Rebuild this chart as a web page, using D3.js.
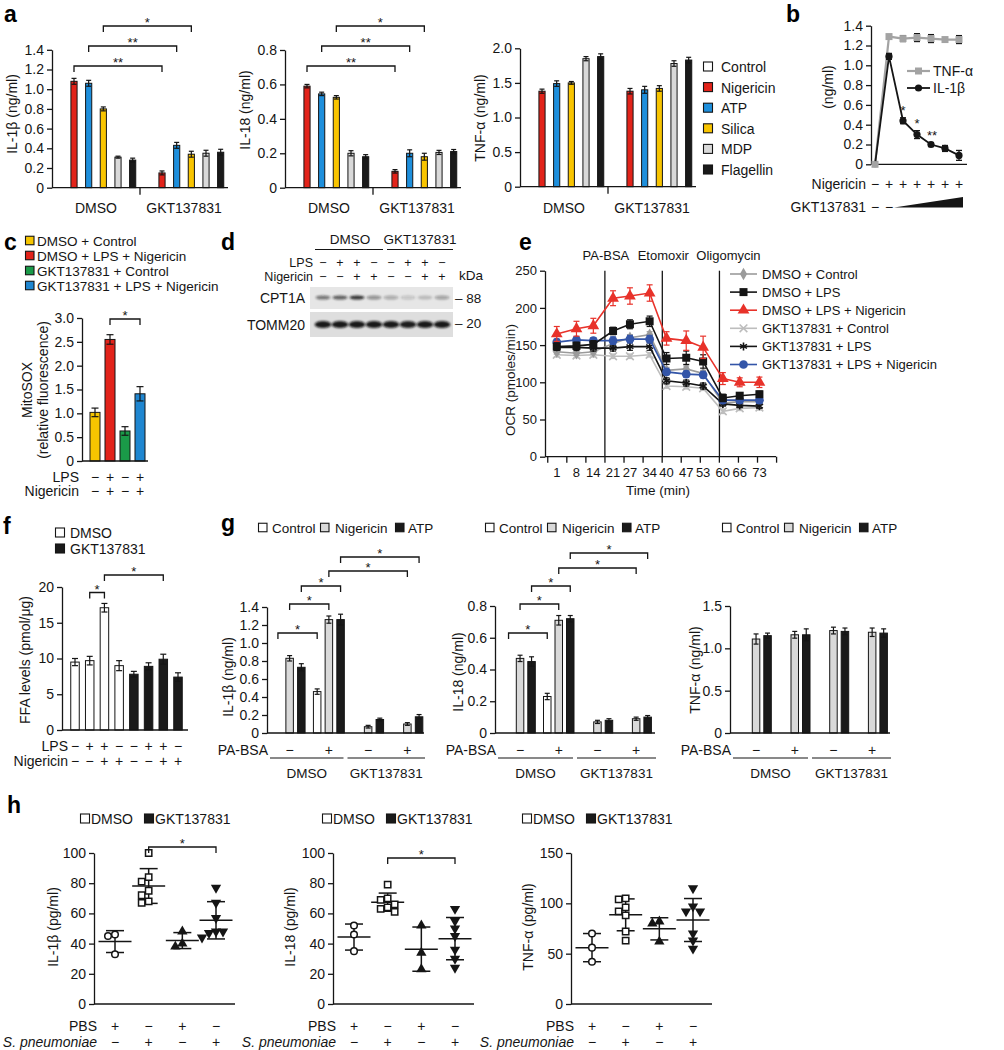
<!DOCTYPE html>
<html><head><meta charset="utf-8">
<script src="https://cdn.jsdelivr.net/npm/d3@7"></script>
<style>body{margin:0;background:#fff}svg{display:block}</style>
</head><body>
<script>
// ================= DATA =================
// Panel a
const aTreatments = ["Control","Nigericin","ATP","Silica","MDP","Flagellin"];
const aGroups = ["DMSO","GKT137831"];
const aIL1b    = [0,1.08,1.06,0.80,0.31,0.28, 0,0.15,0.43,0.34,0.35,0.36];
const aIL1bErr = [0,0.03,0.03,0.02,0.01,0.02, 0,0.02,0.03,0.03,0.03,0.03];
const aIL18    = [0,0.59,0.545,0.525,0.20,0.18, 0,0.095,0.20,0.18,0.205,0.21];
const aIL18Err = [0,0.01,0.01,0.01,0.015,0.012, 0,0.01,0.02,0.02,0.012,0.012];
const aTNF     = [0,1.38,1.49,1.50,1.85,1.88, 0,1.38,1.40,1.42,1.78,1.83];
const aTNFErr  = [0,0.03,0.04,0.02,0.03,0.04, 0,0.04,0.05,0.04,0.04,0.04];
const aIL1bTicks = [0,0.2,0.4,0.6,0.8,1.0,1.2,1.4];
const aIL18Ticks = [0,0.2,0.4,0.6,0.8];
const aTNFTicks  = [0,0.5,1.0,1.5,2.0];

// Panel b
const bNigericin = ["−","+","+","+","+","+","+"];
const bTNF     = [0,1.29,1.27,1.28,1.27,1.26,1.26];
const bTNFErr  = [0,0.02,0.03,0.04,0.04,0.02,0.04];
const bIL1b    = [0,1.09,0.44,0.30,0.20,0.16,0.09];
const bIL1bErr = [0,0.03,0.03,0.04,0.02,0.03,0.05];
const bStars   = ["","","*","*","**","",""];
const bTicks   = [0,0.2,0.4,0.6,0.8,1.0,1.2,1.4];

// Panel c
const cGroups = ["DMSO + Control","DMSO + LPS + Nigericin","GKT137831 + Control","GKT137831 + LPS + Nigericin"];
const cValues = [1.02,2.55,0.63,1.41];
const cErr    = [0.09,0.10,0.09,0.15];
const cLPS    = ["−","+","−","+"];
const cNig    = ["−","+","−","+"];
const cTicks  = [0,0.5,1.0,1.5,2.0,2.5,3.0];

// Panel d (western blot band intensities)
const dLPS    = ["−","+","+","−","−","+","+","−"];
const dNig    = ["−","−","+","+","−","−","+","+"];
const dCPT1A  = [0.55,0.68,0.88,0.42,0.30,0.18,0.20,0.34];
const dTOMM20 = [0.95,0.95,0.95,0.95,0.95,0.93,0.95,0.95];

// Panel e
const eTimes = [1,8,14,21,27,34,40,47,53,60,66,73];
const eSeriesNames = ["DMSO + Control","DMSO + LPS","DMSO + LPS + Nigericin","GKT137831 + Control","GKT137831 + LPS","GKT137831 + LPS + Nigericin"];
const eDMSOCtrl    = [141,139,141,152,160,164,116,118,112,72,74,74];
const eDMSOLPS     = [148,149,151,169,178,182,132,133,128,79,82,84];
const eDMSOLPSNig  = [165,172,176,213,216,220,159,156,147,105,100,100];
const eGKTCtrl     = [137,136,137,135,135,137,95,94,92,61,65,66];
const eGKTLPS      = [147,147,146,146,148,148,102,99,95,71,69,68];
const eGKTLPSNig   = [154,157,156,156,158,158,114,111,110,76,76,76];
const eErrDMSOCtrl   = [3,3,3,4,4,4,4,4,4,3,3,3];
const eErrDMSOLPS    = [5,5,5,5,6,7,8,9,9,5,4,4];
const eErrDMSOLPSNig = [10,10,10,10,11,11,9,13,15,8,6,7];
const eErrGKTCtrl    = [3,3,3,3,3,3,3,3,3,3,3,3];
const eErrGKTLPS     = [4,4,4,4,5,5,4,4,4,3,3,3];
const eErrGKTLPSNig  = [4,4,4,5,5,5,4,4,4,4,4,4];
const eYTicks = [0,50,100,150,200,250];
const eInjections = ["PA-BSA","Etomoxir","Oligomycin"];
const eInjectionTimes = [18.1,38.5,58.8];

// Panel f
const fTreatment = ["DMSO","DMSO","DMSO","DMSO","GKT137831","GKT137831","GKT137831","GKT137831"];
const fValues = [9.5,9.7,17.1,9.0,7.8,8.9,9.9,7.4];
const fErr    = [0.5,0.6,0.6,0.7,0.4,0.5,0.7,0.6];
const fLPS    = ["−","+","+","−","−","+","+","−"];
const fNig    = ["−","−","+","+","−","−","+","+"];
const fTicks  = [0,5,10,15,20];

// Panel g  (groups: DMSO/PA-BSA−, DMSO/PA-BSA+, GKT/PA-BSA−, GKT/PA-BSA+ ; slots: Control, Nigericin, ATP)
const gStimuli = ["Control","Nigericin","ATP"];
const gPABSA = ["−","+","−","+"];
const gIL1b    = [[0,0.83,0.73],[0.46,1.26,1.26],[0,0.07,0.15],[0,0.10,0.18]];
const gIL1bErr = [[0,0.03,0.04],[0.03,0.04,0.06],[0,0.015,0.015],[0,0.015,0.025]];
const gIL18    = [[0,0.47,0.45],[0.23,0.71,0.72],[0,0.07,0.08],[0,0.09,0.10]];
const gIL18Err = [[0,0.02,0.03],[0.02,0.03,0.02],[0,0.01,0.01],[0,0.01,0.01]];
const gTNF     = [[0,1.11,1.15],[0,1.16,1.16],[0,1.21,1.20],[0,1.19,1.18]];
const gTNFErr  = [[0,0.06,0.03],[0,0.04,0.07],[0,0.04,0.04],[0,0.05,0.05]];
const gIL1bTicks = [0,0.2,0.4,0.6,0.8,1.0,1.2,1.4];
const gIL18Ticks = [0,0.2,0.4,0.6,0.8];
const gTNFTicks  = [0,0.5,1.0,1.5];

// Panel h (groups: DMSO+PBS, DMSO+S.pn, GKT+PBS, GKT+S.pn)
const hPBS  = ["+","−","+","−"];
const hSpn  = ["−","+","−","+"];
const hIL1b = [[46,45,33],[100,84,81,75,72,68,67],[48,40,38],[77,67,57,48,47,48,44]];
const hIL18 = [[52,46,35],[79,70,69,66,64,63,61],[52,34,23],[63,55,50,45,36,30,24]];
const hTNF  = [[70,56,42],[105,104,96,92,88,72,63],[82,80,62],[115,97,92,92,70,63,55]];
const hTicks100 = [0,20,40,60,80,100];
const hTicks150 = [0,50,100,150];

// ================= DRAWING =================
const FONT = "'Liberation Sans', Arial, Helvetica, sans-serif";
const INK = "#151515";
const svg = d3.select("body").append("svg").attr("width",1004).attr("height",1050);
svg.append("rect").attr("width",1004).attr("height",1050).attr("fill","#fff");
const defs = svg.append("defs");
defs.append("filter").attr("id","blur").attr("x","-50%").attr("y","-100%").attr("width","200%").attr("height","300%")
  .append("feGaussianBlur").attr("stdDeviation",0.9);

function txt(x,y,s,o={}){
  const t = svg.append("text").attr("x",x).attr("y",y).text(s)
    .attr("font-family",FONT).attr("font-size",o.size||14).attr("fill",o.fill||INK)
    .attr("text-anchor",o.anchor||"start");
  if(o.weight) t.attr("font-weight",o.weight);
  if(o.style) t.attr("font-style",o.style);
  if(o.rotate) t.attr("transform",`rotate(${o.rotate},${x},${y})`);
  return t;
}
function vlabel(cx,cy,s,size=14){ return txt(cx+size*0.36,cy,s,{size,anchor:"middle",rotate:-90}); }
function line(x1,y1,x2,y2,w=1.3,c=INK){
  svg.append("line").attr("x1",x1).attr("y1",y1).attr("x2",x2).attr("y2",y2).attr("stroke",c).attr("stroke-width",w);
}
function yAxis(x,ys,ticks,fmt,size=14){
  const g = svg.append("g").attr("transform",`translate(${x},0)`)
    .call(d3.axisLeft(ys).tickValues(ticks).tickFormat(fmt).tickSize(5).tickSizeOuter(0).tickPadding(3));
  g.select(".domain").attr("stroke",INK).attr("stroke-width",1.3);
  g.selectAll(".tick line").attr("stroke",INK).attr("stroke-width",1.3);
  g.selectAll(".tick text").attr("font-family",FONT).attr("font-size",size).attr("fill",INK);
  return g;
}
const fmt1 = d => d===0 ? "0" : d.toFixed(1);
const fmt0 = d => String(d);
function errbar(x,ys,v,e,cap,w=1.2){
  if(!e) return;
  line(x,ys(v-e),x,ys(v+e),w);
  line(x-cap/2,ys(v+e),x+cap/2,ys(v+e),w);
  line(x-cap/2,ys(v-e),x+cap/2,ys(v-e),w);
}
function bar(x,ys,v,w,fill,y0){
  svg.append("rect").attr("x",x-w/2).attr("y",ys(v)).attr("width",w).attr("height",y0-ys(v))
    .attr("fill",fill).attr("stroke",INK).attr("stroke-width",1);
}
function bracket(x1,x2,y,label,drop=6,size=13){
  svg.append("path").attr("d",`M${x1},${y+drop}V${y}H${x2}V${y+drop}`)
    .attr("fill","none").attr("stroke",INK).attr("stroke-width",1.3);
  txt((x1+x2)/2,y+1,label,{anchor:"middle",size});
}
function legendSquare(x,cy,fill,s=10){
  svg.append("rect").attr("x",x+0.5).attr("y",cy-s/2).attr("width",s-1).attr("height",s-1)
    .attr("fill",fill).attr("stroke",INK).attr("stroke-width",1.1);
}
function panelLetter(x,y,s){ txt(x,y,s,{size:23,weight:"bold",fill:"#000"}); }

// ---------- Panel a ----------
panelLetter(4,22,"a");
const aColors = {Control:"#ffffff",Nigericin:"#e2231a",ATP:"#1e8fdc",Silica:"#f8c400",MDP:"#d9d9d9",Flagellin:"#1a1a1a"};
const aSpecs = [
  {vals:aIL1b,errs:aIL1bErr,ticks:aIL1bTicks,max:1.4,ax:52,y0:187.7,yTop:49.8,label:"IL-1β (ng/ml)",lx:12,ly:114,
   br:[[1,7,66,"**"],[2,8,46,"**"],[3,9,26,"*"]]},
  {vals:aIL18,errs:aIL18Err,ticks:aIL18Ticks,max:0.8,ax:285,y0:187.7,yTop:50,label:"IL-18 (ng/ml)",lx:245,ly:110,
   br:[[1,7,66,"**"],[2,8,46,"**"],[3,9,26,"*"]]},
  {vals:aTNF,errs:aTNFErr,ticks:aTNFTicks,max:2.0,ax:520,y0:186.7,yTop:48.3,label:"TNF-α (ng/ml)",lx:480,ly:118,br:[]}
];
aSpecs.forEach(sp=>{
  const W = 176;
  const xs = d3.scaleBand().domain(d3.range(12)).range([sp.ax,sp.ax+W]).paddingInner(0.58).paddingOuter(0.29);
  const cx = i => xs(i)+xs.bandwidth()/2;
  const ys = d3.scaleLinear().domain([0,sp.max]).range([sp.y0,sp.yTop]);
  sp.vals.forEach((v,i)=>{
    if(v<=0) return;
    bar(cx(i),ys,v,xs.bandwidth(),aColors[aTreatments[i%6]],sp.y0);
    errbar(cx(i),ys,v,sp.errs[i],5);
  });
  yAxis(sp.ax,ys,sp.ticks,fmt1);
  line(sp.ax,sp.y0,sp.ax+W,sp.y0);
  line(sp.ax+W/2,sp.y0,sp.ax+W/2,sp.y0+7);
  aGroups.forEach((g,k)=> txt((cx(6*k)+cx(6*k+5))/2,213,g,{anchor:"middle"}));
  vlabel(sp.lx,sp.ly,sp.label);
  sp.br.forEach(b=> bracket(cx(b[0]),cx(b[1]),b[2],b[3]));
});
aTreatments.forEach((t,i)=>{
  const y = 67 + i*20.6;
  legendSquare(703,y,aColors[t]);
  txt(721,y+5,t);
});

// ---------- Panel b ----------
panelLetter(786,22,"b");
{
  const xs = d3.scalePoint().domain(d3.range(7)).range([875,959]);
  const ys = d3.scaleLinear().domain([0,1.4]).range([164.3,25.7]);
  yAxis(871,ys,bTicks,fmt1);
  line(871,164.3,967,164.3);
  const ln = d3.line().x((d,i)=>xs(i)).y(d=>ys(d));
  svg.append("path").attr("d",ln(bTNF)).attr("fill","none").attr("stroke","#a3a3a3").attr("stroke-width",2.2);
  bTNF.forEach((v,i)=>{ if(i>0) errbar(xs(i),ys,v,bTNFErr[i],6,1.3); });
  bTNF.forEach((v,i)=> svg.append("rect").attr("x",xs(i)-3.5).attr("y",ys(v)-3.5).attr("width",7).attr("height",7).attr("fill","#a3a3a3"));
  svg.append("path").attr("d",ln(bIL1b)).attr("fill","none").attr("stroke",INK).attr("stroke-width",1.8);
  bIL1b.forEach((v,i)=>{ if(i>0) errbar(xs(i),ys,v,bIL1bErr[i],6,1.3); });
  bIL1b.forEach((v,i)=> svg.append("circle").attr("cx",xs(i)).attr("cy",ys(v)).attr("r",i===0?3.2:3.6).attr("fill",i===0?"#a3a3a3":INK));
  bStars.forEach((s,i)=>{ if(s) txt(xs(i)+(s.length>1?1:0),ys(bIL1b[i]+bIL1bErr[i])-3,s,{anchor:"middle",size:13}); });
  // legend
  line(907,71,930,71,2.2,"#a3a3a3");
  svg.append("rect").attr("x",915).attr("y",67.5).attr("width",7).attr("height",7).attr("fill","#a3a3a3");
  txt(933,76,"TNF-α");
  line(907,88,930,88,1.8);
  svg.append("circle").attr("cx",918.5).attr("cy",88).attr("r",3.6).attr("fill",INK);
  txt(933,93,"IL-1β");
  vlabel(828,87,"(ng/ml)");
  txt(866,189,"Nigericin",{anchor:"end"});
  bNigericin.forEach((s,i)=> txt(xs(i),189,s,{anchor:"middle"}));
  txt(866,212,"GKT137831",{anchor:"end"});
  txt(xs(0),212,"−",{anchor:"middle"}); txt(xs(1),212,"−",{anchor:"middle"});
  svg.append("path").attr("d",`M${xs(1)+5},207.5L${xs(6)+4},207.5L${xs(6)+4},197Z`).attr("fill",INK);
}

// ---------- Panel c ----------
panelLetter(4,250,"c");
{
  const cColors = ["#f6c500","#e2231a","#1a9a48","#1f86d0"];
  cGroups.forEach((g,i)=>{ const y=241+i*15; legendSquare(25,y,cColors[i],9.5); txt(37,y+5,g,{size:13.5}); });
  const xs = d3.scalePoint().domain(d3.range(4)).range([95,140]);
  const ys = d3.scaleLinear().domain([0,3]).range([461,318]);
  cValues.forEach((v,i)=>{ bar(xs(i),ys,v,10,cColors[i],461); errbar(xs(i),ys,v,cErr[i],7); });
  yAxis(82,ys,cTicks,fmt1);
  line(82,461,148,461);
  bracket(xs(1),xs(3),319,"*");
  vlabel(27,390,"MitoSOX");
  vlabel(43,390,"(relative fluorescence)");
  txt(79,482,"LPS",{anchor:"end"}); cLPS.forEach((s,i)=>txt(xs(i),482,s,{anchor:"middle"}));
  txt(79,496,"Nigericin",{anchor:"end"}); cNig.forEach((s,i)=>txt(xs(i),496,s,{anchor:"middle"}));
}

// ---------- Panel d ----------
panelLetter(221,250,"d");
{
  const xs = d3.scalePoint().domain(d3.range(8)).range([323,442]);
  txt(350,244,"DMSO",{anchor:"middle",size:13.5});
  line(315,249.5,383,249.5,1.2);
  txt(420,244,"GKT137831",{anchor:"middle",size:13.5});
  line(387,249.5,453,249.5,1.2);
  txt(313,267,"LPS",{anchor:"end",size:12.5}); dLPS.forEach((s,i)=>txt(xs(i),267,s,{anchor:"middle",size:12.5}));
  txt(313,281,"Nigericin",{anchor:"end",size:12.5}); dNig.forEach((s,i)=>txt(xs(i),281,s,{anchor:"middle",size:12.5}));
  svg.append("rect").attr("x",310).attr("y",287).attr("width",143).attr("height",22).attr("fill","#e6e6e6");
  svg.append("rect").attr("x",310).attr("y",312).attr("width",143).attr("height",25).attr("fill","#dedede");
  dCPT1A.forEach((v,i)=> svg.append("ellipse").attr("cx",xs(i)).attr("cy",297.5).attr("rx",7.5).attr("ry",2.1)
    .attr("fill",`rgba(25,25,25,${v})`).attr("filter","url(#blur)"));
  dTOMM20.forEach((v,i)=> svg.append("ellipse").attr("cx",xs(i)).attr("cy",324.5).attr("rx",8.3).attr("ry",3.6)
    .attr("fill",`rgba(15,15,15,${v})`).attr("filter","url(#blur)"));
  txt(305,303,"CPT1A",{anchor:"end"});
  txt(305,330,"TOMM20",{anchor:"end"});
  txt(459,280,"kDa",{size:13.5});
  txt(455,303,"– 88",{size:13.5});
  txt(455,328,"– 20",{size:13.5});
}

// ---------- Panel e ----------
panelLetter(519,250,"e");
{
  const ys = d3.scaleLinear().domain([0,250]).range([456.7,270.7]);
  const xs = d3.scaleLinear().domain([-3,79]).range([545.5,776.3]);
  yAxis(545,ys,eYTicks,fmt0,13);
  line(545,456.7,776,456.7);
  d3.range(-2.2,79.5,6.775).forEach(t=> line(xs(t),456.7,xs(t)+0,462.7));
  eTimes.forEach(t=> txt(xs(t),477,String(t),{anchor:"middle",size:13}));
  txt(658,495,"Time (min)",{anchor:"middle",size:13.5});
  vlabel(510,380,"OCR (pmoles/min)",13.5);
  eInjectionTimes.forEach((t,i)=>{
    line(xs(t),270.7,xs(t),456.7,1.3);
    txt(xs(t)+(i===2?9:1),260,eInjections[i],{anchor:"middle",size:13});
  });
  const series = [
    {v:eGKTCtrl,e:eErrGKTCtrl,c:"#bdbdbd",sym:d3.symbolTimes,size:40,stroke:true,name:3},
    {v:eDMSOCtrl,e:eErrDMSOCtrl,c:"#9b9b9b",sym:d3.symbolDiamond,size:45,stroke:false,name:0},
    {v:eGKTLPS,e:eErrGKTLPS,c:INK,sym:d3.symbolAsterisk,size:45,stroke:true,name:4},
    {v:eGKTLPSNig,e:eErrGKTLPSNig,c:"#3355a8",sym:d3.symbolCircle,size:60,stroke:false,name:5},
    {v:eDMSOLPS,e:eErrDMSOLPS,c:INK,sym:d3.symbolSquare,size:64,stroke:false,name:1},
    {v:eDMSOLPSNig,e:eErrDMSOLPSNig,c:"#e8322a",sym:d3.symbolTriangle,size:60,stroke:false,name:2},
  ];
  const ln = d3.line().x((d,i)=>xs(eTimes[i])).y(d=>ys(d));
  function marker(x,y,s){
    const p = svg.append("path").attr("d",d3.symbol().type(s.sym).size(s.size)()).attr("transform",`translate(${x},${y})`);
    if(s.stroke) p.attr("fill","none").attr("stroke",s.c).attr("stroke-width",1.6); else p.attr("fill",s.c);
  }
  series.forEach(s=>{
    svg.append("path").attr("d",ln(s.v)).attr("fill","none").attr("stroke",s.c).attr("stroke-width",1.6);
    s.v.forEach((v,i)=>{
      const x = xs(eTimes[i]);
      const g = s.c;
      svg.append("line").attr("x1",x).attr("x2",x).attr("y1",ys(v-s.e[i])).attr("y2",ys(v+s.e[i])).attr("stroke",g).attr("stroke-width",1.2);
      [v-s.e[i],v+s.e[i]].forEach(q=> svg.append("line").attr("x1",x-3).attr("x2",x+3).attr("y1",ys(q)).attr("y2",ys(q)).attr("stroke",g).attr("stroke-width",1.2));
      marker(x,ys(v),s);
    });
  });
  const byName = {}; series.forEach(s=> byName[s.name]=s);
  eSeriesNames.forEach((n,i)=>{
    const y = 274 + i*18.1, s = byName[i];
    line(730,y,757,y,1.6,s.c);
    marker(743.5,y,s);
    txt(762,y+4.5,n,{size:13});
  });
}

// ---------- Panel f ----------
panelLetter(3,534,"f");
{
  const xs = d3.scalePoint().domain(d3.range(8)).range([75,178]);
  const ys = d3.scaleLinear().domain([0,20]).range([730,587]);
  legendSquare(55,533,"#fff"); txt(70,538,"DMSO");
  legendSquare(55,549,"#1a1a1a"); txt(70,554,"GKT137831");
  fValues.forEach((v,i)=>{ bar(xs(i),ys,v,8.5,fTreatment[i]==="DMSO"?"#fff":"#1a1a1a",730); errbar(xs(i),ys,v,fErr[i],6); });
  yAxis(62,ys,fTicks,fmt0);
  line(62,730,188,730);
  bracket(xs(1),xs(2),592.5,"*");
  bracket(xs(2),xs(6),575,"*");
  vlabel(25,660,"FFA levels (pmol/μg)");
  txt(68,751,"LPS",{anchor:"end"}); fLPS.forEach((s,i)=>txt(xs(i),751,s,{anchor:"middle"}));
  txt(68,766,"Nigericin",{anchor:"end"}); fNig.forEach((s,i)=>txt(xs(i),766,s,{anchor:"middle"}));
}

// ---------- Panel g ----------
panelLetter(221,531,"g");
{
  const gColors = ["#ffffff","#d9d9d9","#1a1a1a"];
  const specs = [
    {vals:gIL1b,errs:gIL1bErr,ticks:gIL1bTicks,max:1.4,ax:267,end:424,top:607,r0:270,r1:427,slot:11.7,label:"IL-1β (ng/ml)",lx:228,ly:677,leg:258,
     br:[[0,0,1,0,633],[0,1,1,1,604],[0,2,1,2,586],[1,1,3,1,571],[1,2,3,2,557]]},
    {vals:gIL18,errs:gIL18Err,ticks:gIL18Ticks,max:0.8,ax:495,end:655,top:606,r0:500.7,r1:655.5,slot:11.5,label:"IL-18 (ng/ml)",lx:458,ly:672,leg:485,
     br:[[0,0,1,0,633],[0,1,1,1,604],[0,2,1,2,586],[1,1,3,1,568],[1,2,3,2,553]]},
    {vals:gTNF,errs:gTNFErr,ticks:gTNFTicks,max:1.5,ax:730,end:890,top:606,r0:736.7,r1:891.5,slot:11.5,label:"TNF-α (ng/ml)",lx:695,ly:670,leg:722,br:[]}
  ];
  specs.forEach(sp=>{
    const y0 = 733;
    const gx = d3.scaleBand().domain(d3.range(4)).range([sp.r0,sp.r1]);
    const cx = (g,s) => gx(g)+gx.bandwidth()/2 + (s-1)*sp.slot;
    const ys = d3.scaleLinear().domain([0,sp.max]).range([y0,sp.top]);
    sp.vals.forEach((grp,g)=> grp.forEach((v,s)=>{
      if(v<=0) return;
      bar(cx(g,s),ys,v,7.5,gColors[s],y0);
      errbar(cx(g,s),ys,v,sp.errs[g][s],5);
    }));
    yAxis(sp.ax,ys,sp.ticks,fmt1);
    line(sp.ax,y0,sp.end,y0);
    sp.br.forEach(b=> bracket(cx(b[0],b[1]),cx(b[2],b[3]),b[4],"*"));
    vlabel(sp.lx,sp.ly,sp.label);
    txt(sp.ax+1,755,"PA-BSA",{anchor:"end"});
    gPABSA.forEach((s,g)=> txt(cx(g,1),755,s,{anchor:"middle"}));
    const mid = (sp.ax+sp.end)/2;
    line(sp.ax+3,758,mid-2,758,1.2); line(mid+2,758,sp.end+1,758,1.2);
    txt((sp.ax+3+mid-2)/2,778,"DMSO",{anchor:"middle",size:13.5});
    txt((mid+2+sp.end+1)/2,778,"GKT137831",{anchor:"middle",size:13.5});
    // legend
    const offs = [[0,14],[62,77],[137,150]];
    gStimuli.forEach((n,k)=>{ legendSquare(sp.leg+offs[k][0],528,gColors[k],9.5); txt(sp.leg+offs[k][1],533,n,{size:13.5}); });
  });
}

// ---------- Panel h ----------
panelLetter(7,813,"h");
{
  const specs = [
    {data:hIL1b,ticks:hTicks100,max:100,ax:94,label:"IL-1β (pg/ml)",lx:53,leg:80,br:[1,3,847]},
    {data:hIL18,ticks:hTicks100,max:100,ax:333,label:"IL-18 (pg/ml)",lx:290,leg:322,br:[1,3,858]},
    {data:hTNF,ticks:hTicks150,max:150,ax:571,label:"TNF-α (pg/ml)",lx:528,leg:522,br:null}
  ];
  const syms = [
    {t:d3.symbolCircle,size:34,open:true,rot:0},
    {t:d3.symbolSquare,size:40,open:true,rot:0},
    {t:d3.symbolTriangle,size:46,open:false,rot:0},
    {t:d3.symbolTriangle,size:46,open:false,rot:180}
  ];
  specs.forEach(sp=>{
    const y0 = 1004;
    const xs = d3.scalePoint().domain(d3.range(4)).range([sp.ax+21,sp.ax+122]);
    const ys = d3.scaleLinear().domain([0,sp.max]).range([y0,853]);
    yAxis(sp.ax,ys,sp.ticks,fmt0);
    line(sp.ax,y0,sp.ax+141,y0);
    sp.data.forEach((pts,g)=>{
      const m = d3.mean(pts), sd = d3.deviation(pts);
      const x = xs(g);
      line(x,ys(m+sd),x,ys(m-sd),1.5);
      line(x-9,ys(m+sd),x+9,ys(m+sd),1.5);
      line(x-9,ys(m-sd),x+9,ys(m-sd),1.5);
      line(x-16.5,ys(m),x+16.5,ys(m),1.5);
      // simple beeswarm placement
      const placed = [];
      pts.forEach(v=>{
        const y = ys(v);
        for(const dx of [0,-7,7,-14,14]){
          if(placed.every(p=> Math.hypot(p[0]-dx,p[1]-y) >= 6.5)){ placed.push([dx,y]); break; }
        }
      });
      placed.forEach(([dx,y])=>{
        const s = syms[g];
        const p = svg.append("path").attr("d",d3.symbol().type(s.t).size(s.size)())
          .attr("transform",`translate(${x+dx},${y}) rotate(${s.rot})`);
        if(s.open) p.attr("fill","#fff").attr("stroke",INK).attr("stroke-width",1.5);
        else p.attr("fill",INK);
      });
    });
    if(sp.br) bracket(xs(sp.br[0]),xs(sp.br[1]),sp.br[2],"*");
    vlabel(sp.lx,927,sp.label);
    txt(sp.ax+3,1031,"PBS",{anchor:"end"}); hPBS.forEach((s,i)=>txt(xs(i),1031,s,{anchor:"middle"}));
    txt(sp.ax+3,1047,"S. pneumoniae",{anchor:"end",style:"italic"}); hSpn.forEach((s,i)=>txt(xs(i),1047,s,{anchor:"middle"}));
    legendSquare(sp.leg,819,"#fff"); txt(sp.leg+11,824,"DMSO");
    legendSquare(sp.leg+64,819,"#1a1a1a"); txt(sp.leg+75,824,"GKT137831");
  });
}
</script>
</body></html>
